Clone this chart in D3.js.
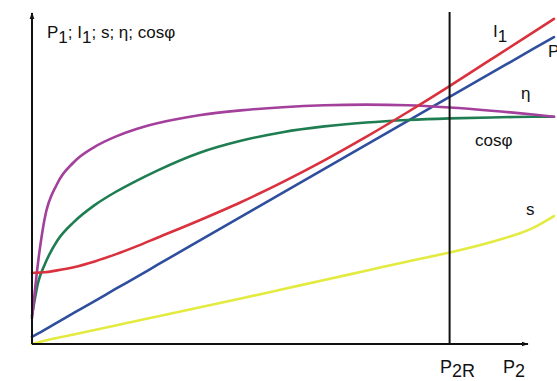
<!DOCTYPE html>
<html>
<head>
<meta charset="utf-8">
<script src="https://cdn.jsdelivr.net/npm/d3@7"></script>
<style>
  html, body { margin: 0; padding: 0; background: #fff; }
  svg { display: block; }
  text { font-family: "Liberation Sans", Arial, sans-serif; fill: #111; }
</style>
</head>
<body>
<svg id="chart" width="557" height="381"></svg>
<script>
// Load P2 (relative to rated load P2R = 1)
const p2 = [0, 0.015, 0.03, 0.06, 0.1, 0.15, 0.2, 0.25, 0.3, 0.4, 0.5, 0.6, 0.7, 0.8, 0.9, 1.0, 1.1, 1.2, 1.25];

// Characteristic curves (arbitrary relative units)
const I1     = [22.2, 22.3, 22.4, 23.0, 24.0, 25.8, 28.0, 30.5, 33.2, 38.6, 44.3, 50.6, 57.4, 64.7, 72.5, 80.6, 89.0, 97.4, 101.6];
const P1     = [2.2, 3.3, 4.4, 6.7, 9.7, 13.4, 17.2, 20.9, 24.7, 32.2, 39.7, 47.2, 54.7, 62.2, 69.7, 77.2, 84.7, 92.2, 95.9];
const eta    = [8.0, 26.0, 39.0, 50.0, 56.8, 61.6, 64.8, 67.2, 69.0, 71.5, 73.0, 74.0, 74.6, 74.8, 74.6, 73.9, 72.9, 71.7, 71.0];
const cosPhi = [8.8, 19.4, 24.7, 32.2, 38.1, 43.4, 47.5, 51.0, 54.2, 59.7, 63.5, 66.2, 68.0, 69.2, 70.0, 70.5, 70.8, 71.0, 71.0];
const slip   = [0.0, 0.5, 1.0, 1.9, 3.0, 4.4, 5.8, 7.2, 8.6, 11.4, 14.2, 17.1, 20.0, 22.9, 25.8, 28.6, 31.9, 36.3, 40.0];

const ratedLoad = 1.0;

const svg = d3.select("#chart");

const x = d3.scaleLinear().domain([0, 1.25]).range([32, 554]);
const y = d3.scaleLinear().domain([0, 100]).range([344, 24]);

// Arrow head marker for the axes
svg.append("defs").append("marker")
  .attr("id", "arrow")
  .attr("viewBox", "0 0 10 10")
  .attr("refX", 9).attr("refY", 5)
  .attr("markerWidth", 7).attr("markerHeight", 7)
  .attr("markerUnits", "userSpaceOnUse")
  .attr("orient", "auto")
  .append("path")
  .attr("d", "M0,1.5 L10,5 L0,8.5 Z")
  .attr("fill", "#111");

// Curves
const series = [
  { values: slip,   color: "#e3ea40" },
  { values: P1,     color: "#2f4f9e" },
  { values: cosPhi, color: "#1f7d52" },
  { values: eta,    color: "#a3409c" },
  { values: I1,     color: "#d9313d" }
];

const line = d3.line()
  .x((d, i) => x(p2[i]))
  .y(d => y(d))
  .curve(d3.curveMonotoneX);

svg.append("g").selectAll("path")
  .data(series)
  .join("path")
  .attr("d", s => line(s.values))
  .attr("fill", "none")
  .attr("stroke", s => s.color)
  .attr("stroke-width", 2.6)
  .attr("stroke-linecap", "round");

// Axes (no ticks), with arrows
const xAxis = svg.append("g")
  .attr("transform", `translate(0,${y(0)})`)
  .call(d3.axisBottom(x).tickValues([]).tickSizeOuter(0));
xAxis.select(".domain")
  .attr("d", `M${x(0)},0H528`)
  .attr("stroke", "#111").attr("stroke-width", 2)
  .attr("marker-end", "url(#arrow)");

const yAxis = svg.append("g")
  .attr("transform", `translate(${x(0)},0)`)
  .call(d3.axisLeft(y).tickValues([]).tickSizeOuter(0));
yAxis.select(".domain")
  .attr("d", `M0,${y(0)}V13`)
  .attr("stroke", "#111").attr("stroke-width", 2)
  .attr("marker-end", "url(#arrow)");

// Rated load line
svg.append("line")
  .attr("x1", x(ratedLoad)).attr("x2", x(ratedLoad))
  .attr("y1", 12).attr("y2", y(0) + 1)
  .attr("stroke", "#111").attr("stroke-width", 2);

// Labels: parts flagged sub are lowered as subscripts
function label(xp, yp, parts, size, drop) {
  const t = svg.append("text")
    .attr("x", xp).attr("y", yp)
    .attr("font-size", size);
  let lowered = false;
  parts.forEach(p => {
    const span = t.append("tspan").text(p.t);
    if (p.sub && !lowered) { span.attr("dy", drop); lowered = true; }
    else if (!p.sub && lowered) { span.attr("dy", -drop); lowered = false; }
  });
  return t;
}

label(47, 38, [{t:"P"},{t:"1",sub:true},{t:"; I"},{t:"1",sub:true},{t:"; s; η; cosφ"}], 17, 5);
label(493, 37, [{t:"I"},{t:"1",sub:true}], 17, 5);
label(548, 57, [{t:"P"},{t:"1",sub:true}], 17, 5);
label(521, 99, [{t:"η"}], 17, 5);
label(475, 146, [{t:"cosφ"}], 17, 5);
label(526, 215, [{t:"s"}], 17, 5);
label(440, 373, [{t:"P"},{t:"2R",sub:true}], 18, 4);
label(503, 373, [{t:"P"},{t:"2",sub:true}], 18, 4);
</script>
</body>
</html>
